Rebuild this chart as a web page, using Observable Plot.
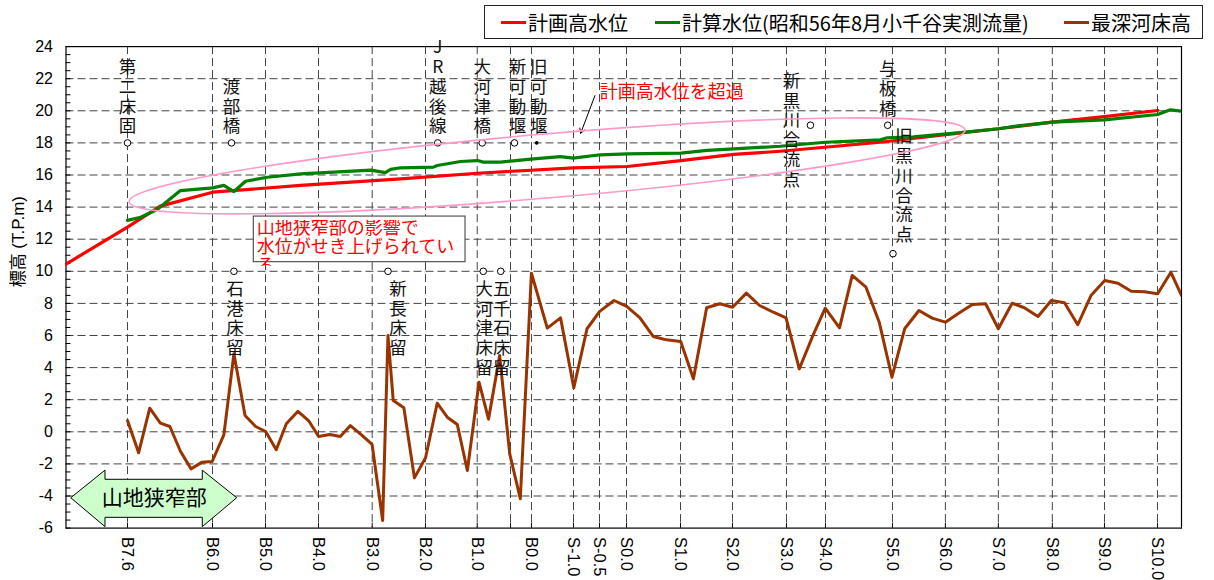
<!DOCTYPE html>
<html><head><meta charset="utf-8">
<script src="https://cdn.jsdelivr.net/npm/d3@7"></script>
<script src="https://cdn.jsdelivr.net/npm/@observablehq/plot@0.6"></script>
<style>
body{margin:0;background:#fff;}
#wrap{position:relative;width:1214px;height:580px;font-family:'Liberation Sans','Noto Sans CJK JP',sans-serif;}
#legend{position:absolute;left:484px;top:5px;width:717px;height:32px;border:1px solid #222;background:#fff;z-index:2}
.li{position:absolute;top:0;height:32px;display:flex;align-items:center;font-size:20px;font-family:'Noto Sans CJK JP',sans-serif;white-space:nowrap;color:#000}
.sw{display:inline-block;width:25px;height:3px;margin-right:2px}
</style></head>
<body><div id="wrap"><div id="legend"></div></div>
<script>
// ---- axis ticks (distance along river, km from B7.6) ----
const tickKm = [0, 1.606, 2.607, 3.608, 4.622, 5.629, 6.606, 7.235, 7.631, 8.425, 8.916, 9.426, 10.446, 11.428, 12.448, 13.185, 14.45, 15.45, 16.45, 17.47, 18.455, 19.456];
const tickLabels = ["B7.6","B6.0","B5.0","B4.0","B3.0","B2.0","B1.0","","B0.0","S-1.0","S-0.5","S0.0","S1.0","S2.0","S3.0","S4.0","S5.0","S6.0","S7.0","S8.0","S9.0","S10.0"];
const yTicks = [-6,-4,-2,0,2,4,6,8,10,12,14,16,18,20,22,24];
const yMinor = d3.range(-6, 24.01, 0.5);

// ---- series ----
const seriesNames = ["計画高水位", "計算水位(昭和56年8月小千谷実測流量)", "最深河床高"];
const seriesColors = ["#ff0000", "#008000", "#993300"];

const planKm = [-1.162, 0, 0.62, 1.61, 3.27, 5.16, 6.61, 8.43, 9.44, 10.45, 11.45, 12.33, 14.22, 15.45, 16.45, 17.47, 18.45, 19.46];
const planLevel = [10.45, 12.75, 14.06, 14.93, 15.35, 15.76, 16.11, 16.45, 16.53, 16.9, 17.28, 17.48, 18.04, 18.52, 18.88, 19.29, 19.64, 20.02];

const calcKm = [0, 0.25, 0.56, 1.0, 1.61, 1.82, 2.01, 2.23, 2.64, 3.27, 4.6, 4.87, 4.97, 5.16, 5.78, 5.85, 6.29, 6.61, 6.72, 7.05, 7.67, 8.18, 8.42, 8.93, 9.44, 10.45, 10.95, 11.45, 12.33, 13.18, 14.22, 14.35, 14.85, 15.83, 16.45, 16.87, 17.47, 18.45, 19.46, 19.7, 19.91];
const calcLevel = [13.17, 13.37, 13.85, 15.03, 15.2, 15.35, 14.97, 15.61, 15.86, 16.07, 16.3, 16.15, 16.35, 16.45, 16.49, 16.59, 16.84, 16.9, 16.8, 16.8, 17.01, 17.15, 17.05, 17.26, 17.32, 17.36, 17.53, 17.63, 17.79, 18.04, 18.19, 18.32, 18.38, 18.67, 18.88, 19.08, 19.29, 19.44, 19.77, 20.06, 19.98];

const bedKm = [0, 0.21, 0.42, 0.62, 0.80, 1.0, 1.20, 1.41, 1.60, 1.82, 2.01, 2.22, 2.42, 2.61, 2.81, 3.00, 3.22, 3.42, 3.61, 3.82, 4.02, 4.21, 4.42, 4.62, 4.82, 4.92, 5.02, 5.22, 5.42, 5.63, 5.85, 6.04, 6.23, 6.42, 6.64, 6.82, 7.03, 7.22, 7.42, 7.63, 7.93, 8.18, 8.43, 8.68, 8.92, 9.19, 9.43, 9.68, 9.93, 10.18, 10.45, 10.69, 10.94, 11.19, 11.43, 11.69, 11.94, 12.20, 12.44, 12.69, 12.94, 13.18, 13.45, 13.69, 13.95, 14.20, 14.44, 14.68, 14.95, 15.20, 15.45, 15.70, 15.96, 16.21, 16.45, 16.71, 16.94, 17.20, 17.45, 17.70, 17.95, 18.20, 18.46, 18.71, 18.96, 19.21, 19.46, 19.71, 19.91];
const bedLevel = [0.70, -1.31, 1.47, 0.54, 0.33, -1.21, -2.31, -1.89, -1.85, -0.19, 4.86, 1.02, 0.33, 0.02, -1.12, 0.5, 1.28, 0.7, -0.29, -0.17, -0.29, 0.39, -0.19, -0.79, -5.53, 6.0, 1.95, 1.5, -2.87, -1.62, 1.78, 0.91, 0.45, -2.41, 3.09, 0.79, 4.75, -1.37, -4.17, 9.88, 6.46, 7.1, 2.74, 6.42, 7.5, 8.18, 7.81, 7.1, 5.94, 5.73, 5.63, 3.3, 7.73, 7.98, 7.76, 8.64, 7.87, 7.45, 7.1, 3.92, 5.94, 7.7, 6.48, 9.74, 9.01, 6.83, 3.4, 6.42, 7.56, 7.08, 6.83, 7.39, 7.93, 7.98, 6.42, 8.01, 7.73, 7.18, 8.18, 8.04, 6.67, 8.49, 9.43, 9.26, 8.76, 8.72, 8.6, 9.94, 8.5];

// ---- stations ----
const stationNames = ["第二床固","渡部橋","JR越後線","大河津橋","新可動堰","旧可動堰","新黒川合流点","与板橋","旧黒川合流点","石港床留","新長床留","大河津床留","五千石床留"];
const stationKm    = [0, 1.965, 5.86, 6.70, 7.31, 7.73, 12.90, 14.36, 14.46, 2.01, 4.92, 6.72, 7.05];
const stationLevel = [18, 18, 18, 18, 18, 18, 19.1, 19.1, 11.1, 10, 10, 10, 10];
const stationSide  = ["above","above","above","above","above","above","left","above","aboveRight","below","belowRight","below","below"];

// ---- annotations ----
const noteText = "山地狭窄部の影響で\n水位がせき上げられてい\nる";
const noteBox = {x1: 2.386, x2: 6.385, y1: 10.57, y2: 13.41};
const exceedText = "計画高水位を超過";
const exceedAt = {km: 8.92, v: 21.16};
const exceedArrow = {x1: 8.83, y1: 20.95, x2: 8.56, y2: 18.6};
const ellipseEnds = {km: [0.04, 15.83], v: [14.3, 18.77]};
const narrowText = "山地狭窄部";
const narrowArrow = {left: -1.063, head1: -0.416, head2: 1.422, right: 2.072, mid: -4.14, headTop: -2.42, bodyTop: -2.99, bodyBot: -5.36, headBot: -5.94};

const W = 1214, H = 580;
const mL = 65.5, mR = 33, mT = 46.1, mB = 52.4;
const plotW = W - mL - mR, plotH = H - mT - mB;
const gridColor = "#444", dash = "8,4";

const toRows = (ks, vs) => ks.map((k, i) => ({km: k, v: vs[i]}));

const stationStyle = {
  above:      {dx: 0,   dy: -10.5, lineAnchor: "bottom"},
  aboveRight: {dx: 11,  dy: -12.5, lineAnchor: "bottom"},
  left:       {dx: -19, dy: -52.5, lineAnchor: "top"},
  below:      {dx: 1,   dy: 9.5,   lineAnchor: "top"},
  belowRight: {dx: 10,  dy: 9.5,   lineAnchor: "top"}
};
const stations = stationNames.map((n, i) => ({name: n, km: stationKm[i], v: stationLevel[i], side: stationSide[i]}));

const stationTextMarks = stations.map(s => {
  const st = stationStyle[s.side];
  return Plot.text([s], {x: "km", y: "v", text: d => d.name.split("").join("\n"), fontSize: 17.5, lineHeight: 1.13,
    textAnchor: "middle", lineAnchor: st.lineAnchor, dx: st.dx + (s.name === "新可動堰" ? 3 : s.name === "旧可動堰" ? 2 : 0), dy: st.dy, fill: "#111",
    fontFamily: "'Noto Sans CJK JP', sans-serif"});
});

const plot = Plot.plot({
  width: W, height: H,
  marginLeft: mL, marginRight: mR, marginTop: mT, marginBottom: mB,
  style: {fontFamily: "'Liberation Sans','Noto Sans CJK JP',sans-serif", background: "transparent", overflow: "visible"},
  x: {domain: [-1.162, 19.91], axis: null},
  y: {domain: [-6, 24], axis: null},
  marks: [
    Plot.ruleY(yTicks.filter(t => t > -6 && t < 24), {y: d => d, stroke: gridColor, strokeDasharray: dash, strokeWidth: 1}),
    Plot.ruleX(tickKm, {x: d => d, stroke: gridColor, strokeDasharray: dash, strokeWidth: 1}),
    Plot.frame({stroke: "#000", strokeWidth: 1.2}),
    Plot.tickY(yMinor, {y: d => d, insetRight: plotW - 5, stroke: "#000"}),
    Plot.tickX(tickKm, {x: d => d, insetTop: plotH - 5, stroke: "#000"}),
    Plot.axisY({ticks: yTicks, tickSize: 0, tickPadding: 13, tickFormat: d => String(d), fontSize: 16, label: null}),
    Plot.text(tickKm.map((k, i) => ({km: k, label: tickLabels[i]})), {x: "km", frameAnchor: "bottom", text: "label", rotate: 90, textAnchor: "start", lineAnchor: "middle", dy: 9, fontSize: 16.5, fill: "#000"}),
    Plot.text(["標高 (T.P.m)"], {frameAnchor: "left", dx: -47, rotate: -90, fontSize: 17, fill: "#000"}),
    // annotation box
    Plot.rect([noteBox], {x1: "x1", x2: "x2", y1: "y1", y2: "y2", fill: "#fff", stroke: "#555", strokeWidth: 1.2}),
    Plot.text([noteBox], {x: "x1", y: "y2", text: () => noteText, textAnchor: "start", lineAnchor: "top", dx: 3, dy: 3.5, fontSize: 18, lineHeight: 1.06, fill: "#ff0000", fontFamily: "'Noto Sans CJK JP', sans-serif"}),
    // series
    Plot.line(toRows(bedKm, bedLevel), {x: "km", y: "v", stroke: seriesColors[2], strokeWidth: 3, clip: true}),
    Plot.line(toRows(planKm, planLevel), {x: "km", y: "v", stroke: seriesColors[0], strokeWidth: 3.2, clip: true}),
    Plot.line(toRows(calcKm, calcLevel), {x: "km", y: "v", stroke: seriesColors[1], strokeWidth: 3.2, clip: true}),
    // stations
    Plot.dot(stations.filter(s => s.name !== "旧可動堰"), {x: "km", y: "v", r: 3.3, stroke: "#000", strokeWidth: 1, fill: "#fff"}),
    Plot.dot(stations.filter(s => s.name === "旧可動堰"), {x: "km", y: "v", r: 1.8, fill: "#000"}),
    ...stationTextMarks,
    // exceed annotation
    Plot.text([exceedAt], {x: "km", y: "v", text: () => exceedText, textAnchor: "start", fontSize: 18, fill: "#ff0000", fontFamily: "'Noto Sans CJK JP', sans-serif"}),
    Plot.arrow([exceedArrow], {x1: "x1", y1: "y1", x2: "x2", y2: "y2", stroke: "#000", strokeWidth: 1, headLength: 8}),
    Plot.text([narrowArrow], {x: d => (d.left + d.right) / 2, y: "mid", text: () => narrowText, fontSize: 21, fill: "#000", fontFamily: "'Noto Sans CJK JP', sans-serif"})
  ]
});

document.getElementById("wrap").appendChild(plot);
plot.style.position = "absolute"; plot.style.left = "0"; plot.style.top = "0";

const X = plot.scale("x").apply, Y = plot.scale("y").apply;
const svg = d3.select(plot);

// top-level group of the mark whose text matches
function groupOfText(match) {
  const t = Array.from(plot.querySelectorAll("text")).find(match);
  if (!t) return null;
  let g = t;
  while (g.parentNode && g.parentNode !== plot) g = g.parentNode;
  return g;
}

// clip note text to box
const defs = svg.append("defs");
defs.append("clipPath").attr("id", "noteclip").append("rect")
  .attr("x", X(noteBox.x1)).attr("y", Y(noteBox.y2))
  .attr("width", X(noteBox.x2) - X(noteBox.x1)).attr("height", Y(noteBox.y1) - Y(noteBox.y2));
const noteG = groupOfText(el => el.textContent.startsWith("山地狭窄部の"));
if (noteG) noteG.setAttribute("clip-path", "url(#noteclip)");

// pink ellipse
{
  const ax = X(ellipseEnds.km[0]), ay = Y(ellipseEnds.v[0]);
  const bx = X(ellipseEnds.km[1]), by = Y(ellipseEnds.v[1]);
  const cx = (ax + bx) / 2, cy = (ay + by) / 2;
  const rx = Math.hypot(bx - ax, by - ay) / 2;
  const ang = Math.atan2(by - ay, bx - ax) * 180 / Math.PI;
  svg.append("ellipse").attr("cx", cx).attr("cy", cy).attr("rx", rx).attr("ry", 32)
    .attr("transform", `rotate(${ang} ${cx} ${cy})`)
    .attr("fill", "none").attr("stroke", "#ff99cc").attr("stroke-width", 1.6);
}

// green double arrow (behind its label)
{
  const a = narrowArrow;
  const pts = [[a.left, a.mid], [a.head1, a.headTop], [a.head1, a.bodyTop], [a.head2, a.bodyTop], [a.head2, a.headTop], [a.right, a.mid],
               [a.head2, a.headBot], [a.head2, a.bodyBot], [a.head1, a.bodyBot], [a.head1, a.headBot]];
  const d = "M" + pts.map(p => X(p[0]) + "," + Y(p[1])).join("L") + "Z";
  const path = document.createElementNS("http://www.w3.org/2000/svg", "path");
  path.setAttribute("d", d); path.setAttribute("fill", "#ccffcc"); path.setAttribute("stroke", "#000"); path.setAttribute("stroke-width", "1");
  const g = groupOfText(el => el.textContent === narrowText);
  if (g) plot.insertBefore(path, g); else plot.appendChild(path);
}

// legend
const legendLeft = [16, 170, 579];
const lg = document.getElementById("legend");
seriesNames.forEach((n, i) => {
  const it = document.createElement("div");
  it.className = "li"; it.style.left = legendLeft[i] + "px";
  it.innerHTML = `<span class="sw" style="background:${seriesColors[i]}"></span><span>${n}</span>`;
  lg.appendChild(it);
});
</script>
</body></html>
